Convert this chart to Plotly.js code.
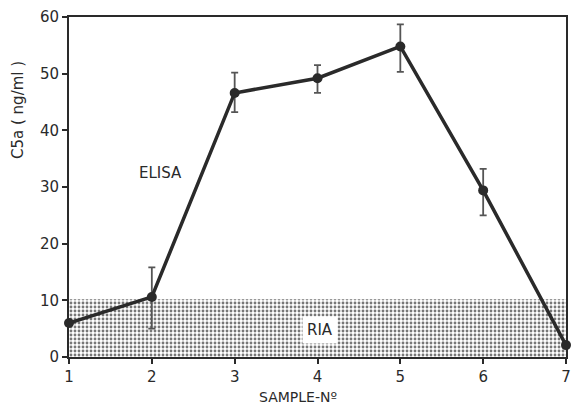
<!DOCTYPE html>
<html>
<head>
<meta charset="utf-8">
<script src="https://cdn.plot.ly/plotly-3.0.1.min.js"></script>
<style>html,body{margin:0;padding:0;background:#fff;}#chart{width:572px;height:408px;}</style>
</head>
<body>
<div id="chart"></div>
<script>
const samples = [1, 2, 3, 4, 5, 6, 7];
const elisa = [6.0, 10.6, 46.6, 49.2, 54.8, 29.4, 2.1];
const errPlus = [0, 5.2, 3.6, 2.3, 3.9, 3.8, 0];
const errMinus = [0, 5.6, 3.4, 2.6, 4.5, 4.4, 0];
const riaX = [1, 7];
const riaLimit = [10.2, 10.2];
const tickVals = [1, 2, 3, 4, 5, 6, 7];
const yTicks = [0, 10, 20, 30, 40, 50, 60];

const font = "'DejaVu Sans', sans-serif";
const ink = '#2a2a2a';

// plot area in pixels (for placing the free-standing titles)
const L = 69, R = 6, T = 17, B = 51, W = 572, H = 408;
const pw = W - L - R, ph = H - T - B;
const px = v => (v - L) / pw;
const py = v => (H - B - v) / ph;

const traces = [
  {
    x: riaX, y: riaLimit, type: 'scatter', mode: 'lines',
    line: {width: 0, color: 'rgba(0,0,0,0)'},
    fill: 'tozeroy',
    fillcolor: 'white',
    fillpattern: {shape: '.', size: 4, solidity: 0.4, fgcolor: '#777', bgcolor: 'white'},
    hoverinfo: 'skip', showlegend: false
  },
  {
    x: samples, y: elisa, type: 'scatter', mode: 'lines+markers',
    line: {color: ink, width: 3.5},
    marker: {color: ink, size: 10},
    error_y: {type: 'data', symmetric: false, array: errPlus, arrayminus: errMinus,
              color: '#555', thickness: 1.8, width: 3.5},
    cliponaxis: false, showlegend: false
  }
];

const layout = {
  width: W, height: H,
  margin: {l: L, r: R, t: T, b: B},
  paper_bgcolor: 'white', plot_bgcolor: 'white',
  font: {family: font, color: ink, size: 14},
  showlegend: false,
  xaxis: {
    range: [1, 7], tickvals: tickVals, ticktext: tickVals.map(String),
    ticks: 'outside', ticklen: 5, tickwidth: 2, tickcolor: ink,
    showline: true, linecolor: ink, linewidth: 2, mirror: true,
    showgrid: false, zeroline: false, ticklabeloverflow: 'allow',
    tickfont: {size: 15, family: font, color: ink}
  },
  yaxis: {
    range: [0, 60], tickvals: yTicks,
    ticks: 'outside', ticklen: 5, tickwidth: 2, tickcolor: ink,
    showline: true, linecolor: ink, linewidth: 2, mirror: true,
    showgrid: false, zeroline: false,
    tickfont: {size: 15, family: font, color: ink}
  },
  annotations: [
    {x: 2.1, y: 32.5, xref: 'x', yref: 'y', text: 'ELISA', showarrow: false,
     font: {size: 15, family: font, color: ink}},
    {x: 4.03, y: 4.8, xref: 'x', yref: 'y', text: 'RIA', showarrow: false,
     bgcolor: 'white', borderpad: 4,
     font: {size: 15, family: font, color: ink}},
    {x: px(18), y: py(110), xref: 'paper', yref: 'paper', text: 'C5a ( ng/ml )',
     textangle: -90, showarrow: false, xanchor: 'center', yanchor: 'middle',
     font: {size: 15, family: font, color: ink}},
    {x: px(298), y: py(397), xref: 'paper', yref: 'paper', text: 'SAMPLE-Nº',
     showarrow: false, xanchor: 'center', yanchor: 'middle',
     font: {size: 14, family: font, color: ink}}
  ]
};

Plotly.newPlot('chart', traces, layout, {staticPlot: true, displayModeBar: false});
</script>
</body>
</html>
